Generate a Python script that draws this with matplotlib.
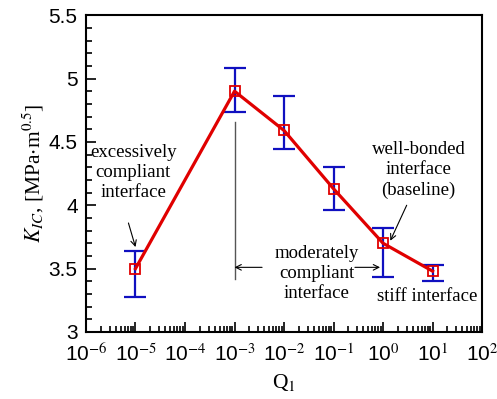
import numpy as np
import matplotlib.pyplot as plt
from matplotlib.ticker import LogLocator, MultipleLocator, FixedLocator

plt.rcParams['mathtext.fontset'] = 'stix'

# data
q1 = [1e-5, 1e-3, 1e-2, 1e-1, 1e0, 1e1]
kic = [3.50, 4.90, 4.59, 4.13, 3.70, 3.48]
err_hi = [3.635, 5.085, 4.865, 4.30, 3.82, 3.53]
err_lo = [3.275, 4.735, 4.445, 3.96, 3.43, 3.40]
xtick_exp = [-6, -5, -4, -3, -2, -1, 0, 1, 2]
ytick_vals = [3, 3.5, 4, 4.5, 5, 5.5]

fig = plt.figure(figsize=(4.97, 3.99), dpi=100)
ax = fig.add_axes([0.173, 0.168, 0.797, 0.794])

yerr = [np.array(kic) - np.array(err_lo), np.array(err_hi) - np.array(kic)]
ax.errorbar(q1, kic, yerr=yerr, fmt='none', ecolor='#1010c0', elinewidth=1.6,
            capsize=8, capthick=1.6, zorder=2)
ax.plot(q1, kic, color='#e00000', lw=2.3, zorder=3)
ax.plot(q1, kic, ls='none', marker='s', ms=7.5, mfc='none', mec='#e00000',
        mew=1.3, zorder=4)

ax.set_xscale('log')
ax.set_xlim(1e-6, 1e2)
ax.set_ylim(3, 5.5)
ax.xaxis.set_major_locator(FixedLocator([10.0 ** e for e in xtick_exp]))
ax.xaxis.set_minor_locator(LogLocator(base=10, subs=np.arange(2, 10), numticks=20))
ax.set_xticklabels([r'10$^{%d}$' % e for e in xtick_exp])
ax.yaxis.set_major_locator(FixedLocator(ytick_vals))
ax.yaxis.set_minor_locator(MultipleLocator(0.1))
ax.set_yticklabels(['%g' % v for v in ytick_vals])

ax.tick_params(which='both', direction='in', labelsize=15, width=1.2)
ax.tick_params(which='major', length=7)
ax.tick_params(axis='x', which='major', pad=8)
ax.tick_params(axis='y', which='major', pad=6)
ax.tick_params(which='minor', length=4)
ax.tick_params(top=False, right=False, which='both')
for lbl in ax.get_xticklabels() + ax.get_yticklabels():
    lbl.set_family('Liberation Sans')
for s in ax.spines.values():
    s.set_linewidth(1.5)

ax.set_xlabel(r'Q$_1$', family='Liberation Serif', fontsize=15.5, labelpad=5)
ax.set_ylabel(r'$K_{IC}$, [MPa$\cdot$m$^{0.5}$]', fontsize=15.5, labelpad=2,
              family='Liberation Serif')

serif = dict(family='Liberation Serif', fontsize=13.5, ha='center', va='center',
             linespacing=1.25)
arr = dict(arrowstyle='->', color='black', lw=0.8, shrinkA=0, shrinkB=0)

ax.text(9e-6, 4.26, 'excessively\ncompliant\ninterface', **serif)
ax.annotate('', xy=(1e-5, 3.67), xytext=(7.2e-6, 3.86), arrowprops=arr)

ax.text(5.2, 4.28, 'well-bonded\ninterface\n(baseline)', **serif)
ax.annotate('', xy=(1.4, 3.72), xytext=(3.0, 4.0), arrowprops=arr)

ax.text(7.7, 3.28, 'stiff interface', **serif)

# vertical line at the peak and the moderately compliant label
ax.plot([1e-3, 1e-3], [3.42, 4.66], color='#555555', lw=1.0)
ax.text(4.6e-2, 3.46, 'moderately\ncompliant\ninterface', **serif)
ax.annotate('', xy=(1e-3, 3.51), xytext=(3.6e-3, 3.51), arrowprops=arr)
ax.annotate('', xy=(0.87, 3.51), xytext=(0.27, 3.51), arrowprops=arr)

fig.savefig('out.png', dpi=100)
